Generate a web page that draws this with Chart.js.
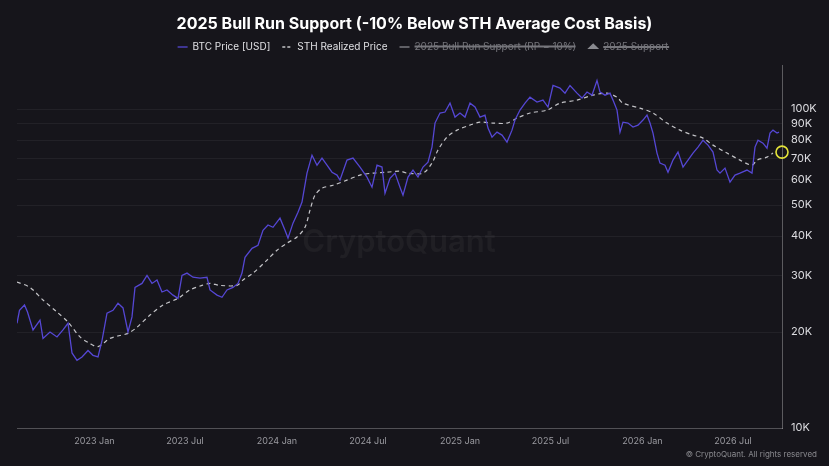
<!DOCTYPE html>
<html>
<head>
<meta charset="utf-8">
<script src="https://cdn.jsdelivr.net/npm/chart.js@4.4.1/dist/chart.umd.min.js"></script>
<style>
  html, body { margin: 0; padding: 0; background: #16151b; }
  #wrap { width: 829px; height: 466px; }
</style>
</head>
<body>
<div id="wrap"><canvas id="bullRunChart"></canvas></div>
<script>
// BTC price (USD)
var btcDates = ['2022-07-30','2022-08-04','2022-08-14','2022-08-20','2022-08-31','2022-09-14','2022-09-20','2022-10-04','2022-10-18','2022-10-30',
    '2022-11-09','2022-11-17','2022-11-27','2022-12-07','2022-12-19','2022-12-29','2023-01-08','2023-01-16','2023-01-26','2023-02-07',
    '2023-02-17','2023-02-27','2023-03-09','2023-03-17','2023-03-23','2023-04-06','2023-04-16','2023-04-26','2023-05-06','2023-05-16',
    '2023-05-26','2023-06-07','2023-06-17','2023-06-25','2023-07-05','2023-07-17','2023-07-31','2023-08-14','2023-08-20','2023-09-03',
    '2023-09-13','2023-09-23','2023-10-05','2023-10-15','2023-10-23','2023-10-29','2023-11-12','2023-11-24','2023-12-04','2023-12-14',
    '2023-12-24','2024-01-07','2024-01-17','2024-01-23','2024-02-02','2024-02-12','2024-02-20','2024-03-01','2024-03-11','2024-03-21',
    '2024-03-31','2024-04-10','2024-04-20','2024-04-30','2024-05-06','2024-05-20','2024-06-01','2024-06-15','2024-06-29','2024-07-09',
    '2024-07-19','2024-07-29','2024-08-04','2024-08-14','2024-08-24','2024-09-03','2024-09-09','2024-09-19','2024-09-29','2024-10-09',
    '2024-10-19','2024-10-29','2024-11-06','2024-11-12','2024-11-22','2024-12-02','2024-12-12','2024-12-22','2025-01-01','2025-01-11',
    '2025-01-21','2025-01-31','2025-02-10','2025-02-20','2025-02-26','2025-03-06','2025-03-16','2025-03-26','2025-04-05','2025-04-15',
    '2025-04-21','2025-05-01','2025-05-11','2025-05-21','2025-06-04','2025-06-16','2025-06-26','2025-07-06','2025-07-20','2025-07-30',
    '2025-08-09','2025-08-23','2025-09-02','2025-09-12','2025-09-22','2025-10-02','2025-10-08','2025-10-18','2025-10-28','2025-11-03',
    '2025-11-11','2025-11-17','2025-11-23','2025-12-03','2025-12-13','2025-12-23','2026-01-02','2026-01-10','2026-01-16','2026-01-22',
    '2026-01-30','2026-02-05','2026-02-15','2026-02-21','2026-03-03','2026-03-13','2026-03-23','2026-04-02','2026-04-12','2026-04-22',
    '2026-05-02','2026-05-12','2026-05-22','2026-05-30','2026-06-05','2026-06-15','2026-06-25','2026-07-05','2026-07-15','2026-07-29',
    '2026-08-08','2026-08-14','2026-08-20','2026-08-30','2026-09-07','2026-09-13','2026-09-19','2026-09-27','2026-10-01'];
var btcPrice = [21300,23400,24300,23100,20300,21800,19100,20000,19300,20300,
    21300,17200,16300,16700,17500,16900,16700,18800,22900,23400,
    24600,23800,20000,22300,27600,28400,30100,28400,29100,26700,
    27100,26100,25500,30100,30600,29700,29500,29700,27100,26100,
    25700,27100,27600,28400,30600,34300,36600,37400,41700,43300,
    42600,45500,41700,39400,43900,47500,51100,63000,71700,66700,
    70200,66700,63400,62100,59900,69200,70200,65800,61200,56900,
    66700,65800,54500,60700,63000,56900,53700,61200,64400,61200,
    65800,68200,76000,90400,97200,97900,104400,94400,97200,94400,
    104400,101500,94400,95800,87200,81700,84700,82900,78800,85900,
    92400,99300,104400,109000,105200,106700,101500,118600,116400,112200,
    118600,112200,108300,113100,110600,123000,113100,110600,112200,106700,
    99300,84700,91000,90400,87800,89100,92400,95800,90400,84100,
    72800,67700,66700,63400,69200,73300,65800,69200,72800,76000,
    79900,77100,73300,64400,63000,65300,59000,62100,63000,64400,
    63000,76000,79900,78200,75400,84100,85900,84100,84700];

// STH realized price (USD)
var sthDates = ['2022-07-30','2022-08-25','2022-09-20','2022-10-18','2022-11-09','2022-12-03','2022-12-23','2023-01-08','2023-02-01','2023-02-21',
    '2023-03-09','2023-03-27','2023-04-22','2023-05-18','2023-06-17','2023-07-11','2023-08-04','2023-08-20','2023-09-09','2023-10-13',
    '2023-10-25','2023-11-14','2023-12-12','2024-01-01','2024-01-21','2024-02-10','2024-02-26','2024-03-07','2024-03-17','2024-03-31',
    '2024-04-22','2024-05-20','2024-06-15','2024-07-11','2024-08-08','2024-09-03','2024-09-17','2024-10-19','2024-11-06','2024-11-18',
    '2024-12-06','2024-12-26','2025-01-21','2025-02-10','2025-03-08','2025-04-05','2025-04-25','2025-05-21','2025-06-24','2025-07-20',
    '2025-08-23','2025-09-24','2025-10-22','2025-11-11','2025-11-23','2025-12-27','2026-01-22','2026-02-19','2026-03-17','2026-04-12',
    '2026-05-02','2026-05-22','2026-06-19','2026-07-15','2026-08-08','2026-08-18','2026-09-07','2026-09-19'];
var sthPrice = [28700,27600,25200,23100,21500,19300,18400,18000,19100,19500,
    19800,20700,22600,24300,25500,27100,28000,28400,28000,28000,
    29100,30600,33600,36100,38000,39700,42600,48200,53700,56500,
    57700,59900,62100,63000,63400,63900,63000,63000,67700,74400,
    81700,85900,89100,91000,90400,90400,93700,97200,99300,104400,
    106700,110600,112200,109000,104400,100700,97200,90400,85900,82900,
    81100,77100,72800,69200,66700,69200,70700,72800];

// highlighted support level at the right edge
var markerDate = ['2026-10-07'];
var markerPrice = [73300];

var yTicks = [10000, 20000, 30000, 40000, 50000, 60000, 70000, 80000, 90000, 100000];
var xTicks = ['2023-01-01','2023-07-01','2024-01-01','2024-07-01','2025-01-01','2025-07-01','2026-01-01','2026-07-01'];
var xTickLabels = ['2023 Jan','2023 Jul','2024 Jan','2024 Jul','2025 Jan','2025 Jul','2026 Jan','2026 Jul'];

var chartTitle = '2025 Bull Run Support (-10% Below STH Average Cost Basis)';

function toPoints(dates, values) {
    return dates.map(function (d, i) { return { x: Date.parse(d), y: values[i] }; });
}

// background, title (centred on the whole canvas), watermark and copyright line
var decorPlugin = {
    id: 'decor',
    beforeLayout: function (chart) {
        // leave a little more room under the legend
        if (chart.legend && !chart.legend._patched) {
            var fit = chart.legend.fit;
            chart.legend.fit = function () { fit.call(this); this.height += 3; };
            chart.legend._patched = true;
        }
    },
    beforeDraw: function (chart) {
        var ctx = chart.ctx;
        ctx.save();
        ctx.fillStyle = '#16151b';
        ctx.fillRect(0, 0, chart.width, chart.height);
        ctx.restore();
    },
    beforeDatasetsDraw: function (chart) {
        var ctx = chart.ctx;
        ctx.save();
        ctx.font = '600 31px Inter';
        ctx.fillStyle = 'rgba(255,255,255,0.045)';
        ctx.textAlign = 'center';
        ctx.textBaseline = 'middle';
        ctx.fillText('CryptoQuant', 399, 243);
        ctx.restore();
    },
    afterDraw: function (chart) {
        var ctx = chart.ctx;
        ctx.save();
        ctx.font = 'bold 16px Inter';
        ctx.fillStyle = '#ffffff';
        ctx.textAlign = 'center';
        ctx.textBaseline = 'middle';
        ctx.fillText(chartTitle, chart.width / 2, 24);

        ctx.font = '8px Inter';
        ctx.fillStyle = '#8a8a8f';
        ctx.textAlign = 'right';
        ctx.fillText('\u00A9 CryptoQuant. All rights reserved', 817, 455);
        ctx.restore();
    }
};

document.addEventListener('DOMContentLoaded', function () {
    var ctx = document.getElementById('bullRunChart').getContext('2d');

    new Chart(ctx, {
        type: 'line',
        data: {
            datasets: [
                {
                    label: 'BTC Price [USD]',
                    data: toPoints(btcDates, btcPrice),
                    borderColor: '#5547d4',
                    backgroundColor: '#5547d4',
                    borderWidth: 1.3,
                    pointRadius: 0,
                    pointStyle: 'line',
                    tension: 0
                },
                {
                    label: 'STH Realized Price',
                    data: toPoints(sthDates, sthPrice),
                    borderColor: '#c4c4c8',
                    backgroundColor: '#c4c4c8',
                    borderWidth: 1.2,
                    borderDash: [4, 3.5],
                    pointRadius: 0,
                    pointStyle: 'line',
                    tension: 0.3
                },
                {
                    label: '2025 Bull Run Support (RP \u2212 10%)',
                    data: [],
                    hidden: true,
                    borderColor: '#8a8a90',
                    backgroundColor: '#8a8a90',
                    borderWidth: 1.2,
                    pointRadius: 0,
                    pointStyle: 'line'
                },
                {
                    label: '2025 Support',
                    data: [],
                    hidden: true,
                    showLine: false,
                    borderColor: '#8a8a90',
                    backgroundColor: '#8a8a90',
                    pointStyle: 'triangle',
                    pointRadius: 3
                },
                {
                    label: 'marker',
                    data: toPoints(markerDate, markerPrice),
                    showLine: false,
                    pointRadius: 6,
                    pointHoverRadius: 6,
                    pointBorderWidth: 1.6,
                    pointBorderColor: '#e4e43a',
                    pointBackgroundColor: 'rgba(0,0,0,0)',
                    clip: false
                }
            ]
        },
        options: {
            responsive: true,
            maintainAspectRatio: false,
            animation: false,
            events: [],
            layout: { padding: { left: 17, right: 0, top: 30, bottom: 0 } },
            scales: {
                x: {
                    type: 'linear',
                    min: Date.parse('2022-07-30'),
                    max: Date.parse('2026-10-07'),
                    afterBuildTicks: function (scale) {
                        scale.ticks = xTicks.map(function (d) { return { value: Date.parse(d) }; });
                    },
                    afterFit: function (scale) { scale.height = 38; },
                    grid: { display: false, drawTicks: false },
                    border: { display: true, color: 'rgba(255,255,255,0.22)', width: 1 },
                    ticks: {
                        padding: 8,
                        color: '#9a9aa0',
                        font: { family: 'Inter', size: 9 },
                        maxRotation: 0,
                        autoSkip: false,
                        callback: function (value, index) { return xTickLabels[index]; }
                    }
                },
                y: {
                    type: 'logarithmic',
                    position: 'right',
                    min: 10000,
                    max: 137500,
                    afterBuildTicks: function (scale) {
                        scale.ticks = yTicks.map(function (v) { return { value: v }; });
                    },
                    afterFit: function (scale) { scale.width = 47; },
                    grid: { color: 'rgba(255,255,255,0.055)', drawTicks: false },
                    border: { display: true, color: 'rgba(255,255,255,0.3)', width: 1 },
                    ticks: {
                        padding: 9,
                        color: '#dcdce0',
                        font: { family: 'Inter', size: 11 },
                        callback: function (value) { return (value / 1000) + 'K'; }
                    }
                }
            },
            plugins: {
                title: { display: false },
                legend: {
                    display: true,
                    labels: {
                        color: '#e0e0e4',
                        font: { family: 'Inter', size: 10 },
                        usePointStyle: true,
                        pointStyleWidth: 10,
                        boxHeight: 4,
                        padding: 12,
                        filter: function (item) { return item.text !== 'marker'; },
                        generateLabels: function (chart) {
                            var items = Chart.defaults.plugins.legend.labels.generateLabels(chart);
                            items.forEach(function (item) {
                                var ds = chart.data.datasets[item.datasetIndex];
                                item.lineWidth = 1.3;
                                if (ds.borderDash) item.lineDash = [3, 2];
                                if (item.hidden) item.fontColor = '#76767c';
                            });
                            return items;
                        }
                    }
                },
                tooltip: { enabled: false }
            }
        },
        plugins: [decorPlugin]
    });
});
</script>
</body>
</html>
